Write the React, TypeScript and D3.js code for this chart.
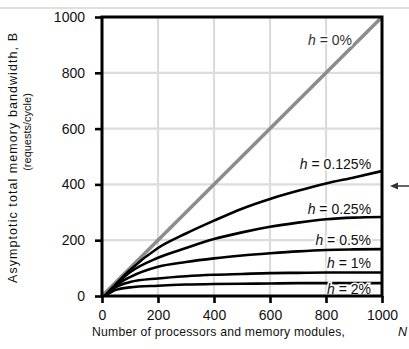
import React, { useEffect, useRef } from "react";
import * as d3 from "d3";

// processors / memory modules
const nValues = [10, 50, 100, 200, 300, 400, 500, 600, 700, 800, 900, 1000];

const seriesNames = ["0.125%", "0.25%", "0.5%", "1%", "2%"];
const bw0125 = [0, 43, 93, 172, 224, 270, 313, 348, 377, 403, 425, 448];
const bw025 = [0, 41, 85, 137, 172, 204, 228, 248, 263, 275, 281, 283];
const bw05 = [0, 38, 68, 105, 122, 135, 145, 153, 160, 165, 167, 168];
const bw1 = [0, 32, 50, 63, 71, 76, 79, 82, 83, 84, 84, 84];
const bw2 = [0, 22, 31, 37, 41, 43, 44, 45, 46, 46, 46, 46];
const seriesValues = [bw0125, bw025, bw05, bw1, bw2];

// h = 0% is the ideal line B = N
const idealN = [0, 1000];
const idealB = [0, 1000];

const xTicks = [0, 200, 400, 600, 800, 1000];
const yTicks = [0, 200, 400, 600, 800, 1000];

// where each "h = ..." label sits, in data units (N, B)
const labelText = ["0%", ...seriesNames];
const labelN = [893, 961, 961, 961, 961, 961];
const labelB = [900, 455, 294, 183, 100, 7];

const FONT = "'Liberation Sans', Arial, Helvetica, sans-serif";

function App() {
  const ref = useRef<SVGSVGElement>(null);

  useEffect(() => {
    const svg = d3.select(ref.current);
    svg.selectAll("*").remove();

    const x = d3.scaleLinear().domain([0, 1000]).range([102, 382]);
    const y = d3.scaleLinear().domain([0, 1000]).range([296, 17]);

    // header remnant
    svg.append("line")
      .attr("x1", 0).attr("x2", 409).attr("y1", 8).attr("y2", 8)
      .attr("stroke", "#d4d4d4").attr("stroke-width", 1.5);

    // grid
    const grid = svg.append("g").attr("stroke", "#dcdcdc").attr("stroke-width", 2.2);
    grid.selectAll("line.v")
      .data(xTicks.slice(1, -1))
      .join("line")
      .attr("x1", d => x(d)).attr("x2", d => x(d))
      .attr("y1", y(0)).attr("y2", y(1000));
    grid.selectAll("line.h")
      .data(yTicks.slice(1, -1))
      .join("line")
      .attr("class", "h")
      .attr("y1", d => y(d)).attr("y2", d => y(d))
      .attr("x1", x(0)).attr("x2", x(1000));

    // ideal line
    const idealLine = d3.line<number>()
      .x((d, i) => x(idealN[i]))
      .y(d => y(d));
    svg.append("path")
      .datum(idealB)
      .attr("d", idealLine)
      .attr("fill", "none")
      .attr("stroke", "#8c8c8c")
      .attr("stroke-width", 3.5);

    // curves
    const curve = d3.line<number>()
      .x((d, i) => x(nValues[i]))
      .y(d => y(d))
      .curve(d3.curveMonotoneX);
    svg.append("g")
      .selectAll("path")
      .data(seriesValues)
      .join("path")
      .attr("d", d => curve(d))
      .attr("fill", "none")
      .attr("stroke", "#000")
      .attr("stroke-width", 2.6);

    // labels
    const labels = svg.append("g")
      .attr("font-family", FONT)
      .attr("font-size", 14)
      .attr("text-anchor", "end");
    labelText.forEach((t, i) => {
      const tx = labels.append("text")
        .attr("x", x(labelN[i]))
        .attr("y", y(labelB[i]))
        .attr("fill", i === 0 ? "#333" : "#111")
        .attr("stroke", "#fff")
        .attr("stroke-width", 3)
        .attr("paint-order", "stroke");
      tx.append("tspan").attr("font-style", "italic").text("h");
      tx.append("tspan").text(" = " + t);
    });

    // frame
    svg.append("rect")
      .attr("x", x(0)).attr("y", y(1000))
      .attr("width", x(1000) - x(0)).attr("height", y(0) - y(1000))
      .attr("fill", "none").attr("stroke", "#000").attr("stroke-width", 3);

    // y axis
    const yAxis = d3.axisLeft(y).tickValues(yTicks).tickFormat(d3.format("d")).tickSize(7).tickPadding(10);
    const ya = svg.append("g").attr("transform", `translate(${x(0)},0)`).call(yAxis);
    ya.select(".domain").remove();
    ya.selectAll("line").attr("stroke-width", 2.6);
    ya.selectAll("text").attr("font-family", FONT).attr("font-size", 14).attr("fill", "#111");

    // x axis
    const xAxis = d3.axisBottom(x).tickValues(xTicks).tickFormat(d3.format("d")).tickSize(7).tickPadding(7);
    const xa = svg.append("g").attr("transform", `translate(0,${y(0)})`).call(xAxis);
    xa.select(".domain").remove();
    xa.selectAll("line").attr("stroke-width", 2.6);
    xa.selectAll("text").attr("font-family", FONT).attr("font-size", 14).attr("fill", "#111");

    // axis titles
    svg.append("text")
      .attr("transform", "translate(17,158) rotate(-90)")
      .attr("text-anchor", "middle")
      .attr("font-family", FONT).attr("font-size", 12.5)
      .attr("textLength", 250).attr("lengthAdjust", "spacing")
      .attr("fill", "#111")
      .text("Asymptotic  total memory bandwidth, B");
    svg.append("text")
      .attr("transform", "translate(31,132) rotate(-90)")
      .attr("text-anchor", "middle")
      .attr("font-family", FONT).attr("font-size", 11)
      .attr("fill", "#111")
      .text("(requests/cycle)");
    svg.append("text")
      .attr("x", 92).attr("y", 336)
      .attr("font-family", FONT).attr("font-size", 12.2)
      .attr("textLength", 253).attr("lengthAdjust", "spacing")
      .attr("fill", "#111")
      .text("Number of processors and memory modules,");
    svg.append("text")
      .attr("x", 398).attr("y", 336)
      .attr("font-family", FONT).attr("font-size", 12.6)
      .attr("font-style", "italic")
      .attr("fill", "#111")
      .text("N");

    // arrow at the right
    svg.append("line")
      .attr("x1", 409).attr("x2", 396).attr("y1", 186).attr("y2", 186)
      .attr("stroke", "#333").attr("stroke-width", 1.5);
    svg.append("path")
      .attr("d", "M390,186 L398,182.5 L398,189.5 Z")
      .attr("fill", "#333");
  }, []);

  return (
    <svg
      ref={ref}
      width={409}
      height={349}
      style={{ position: "absolute", left: 0, top: 0, background: "#fff" }}
    />
  );
}

export default App;
